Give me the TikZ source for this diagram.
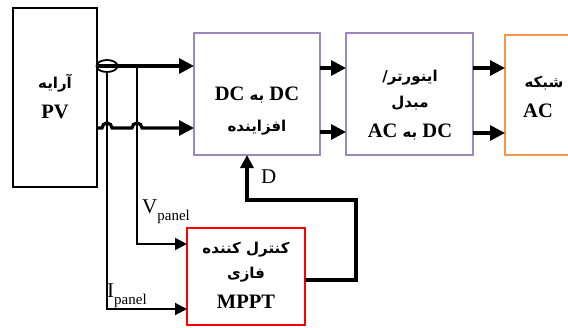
\documentclass[tikz,border=0pt]{standalone}
\usepackage{fontspec}
\setmainfont{Liberation Serif}
\newfontfamily\fa[Script=Arabic]{DejaVu Sans}
\TeXXeTstate=1
\usetikzlibrary{arrows.meta,shapes.geometric}

\definecolor{purp}{RGB}{158,134,192}
\definecolor{orng}{RGB}{247,150,70}

% Persian line and mixed Persian/Latin line
\newcommand\faline[1]{{\fa\bfseries\fontsize{15}{17}\selectfont\beginR #1\endR}}
\newcommand\latbig{\fontsize{20.5}{22}\selectfont\bfseries}
\newcommand\faword[1]{{\fa\fontsize{15}{17}\selectfont #1}}

\tikzset{
  box/.style={inner sep=0pt, outer sep=0pt, line width=1.6pt},
  pw/.style={line width=3.2pt, -{Triangle[length=15pt,width=15pt]}},
  sig/.style={line width=2pt, -{Triangle[length=12pt,width=12pt]}},
  fb/.style={line width=3.4pt, -{Triangle[length=13pt,width=13pt]}},
  txt/.style={inner sep=0pt, anchor=center}
}

\begin{document}
\begin{tikzpicture}[x=1pt,y=-1pt]
\clip (0,0) rectangle (568,327);
\fill[white] (0,0) rectangle (568,327);

% blocks
\node[box, draw=black, minimum width=84pt,  minimum height=179pt] (pv)    at (55,97.5)  {};
\node[box, draw=purp,  minimum width=126pt, minimum height=122pt] (boost) at (257,94)   {};
\node[box, draw=purp,  minimum width=127pt, minimum height=122pt] (inv)   at (409.5,94) {};
\node[box, draw=orng,  minimum width=70pt,  minimum height=120pt] (grid)  at (540,95)   {};
\node[box, draw=red,   minimum width=118pt, minimum height=97pt]  (mppt)  at (246,276.5){};

% current sensor
\node[draw, ellipse, line width=1.8pt, inner sep=0pt, minimum width=21pt, minimum height=12pt] (ct) at (107,66) {};

% levels of the connectors
\coordinate (hA) at (0,66);
\coordinate (hB) at (0,128);
\coordinate (hC) at (0,68);
\coordinate (hD) at (0,132);
\coordinate (hE) at (0,133);
\coordinate (vtap) at (137,66);
\coordinate (vbend) at (137,244);
\coordinate (ibend) at (107,309);
\coordinate (d1) at (356,280);
\coordinate (d2) at (356,200);
\coordinate (d3) at (247,200);

% power path
\draw[pw] (pv.east |- hA) -- (boost.west |- hA);
\draw[pw] (pv.east |- hB) -- (102,128) arc[start angle=180,end angle=360,radius=5]
          -- (132,128) arc[start angle=180,end angle=360,radius=5]
          -- (boost.west |- hB);
\draw[pw] (boost.east |- hC) -- (inv.west |- hC);
\draw[pw] (boost.east |- hD) -- (inv.west |- hD);
\draw[pw] (inv.east |- hC) -- (grid.west |- hC);
\draw[pw] (inv.east |- hE) -- (grid.west |- hE);

% measurements
\draw[sig] (vtap) -- (vbend) -- (mppt.west |- vbend);
\draw[sig] (ct.south) -- (ibend) -- (mppt.west |- ibend);

% duty cycle
\draw[fb] (mppt.east |- d1) -- (d1) -- (d2) -- (d3) -- (boost.south -| d3);

% texts
\node[txt] (pv1) at (55,83) {\faline{آرایه}};
\node[txt] (pv2) at (55,112) {\latbig PV};

\node[txt] (b1) at (257,95) {\latbig\beginR DC\ \faword{به}\ DC\endR};
\node[txt] (b2) at (257,128) {\faline{افزاینده}};

\node[txt] (i1) at (410,78) {\faline{اینورتر/}};
\node[txt] (i2) at (410,103) {\faline{مبدل}};
\node[txt] (i3) at (410,132) {\latbig\beginR DC\ \faword{به}\ AC\endR};

\node[txt] (g1) at (544,83) {\faline{شبکه}};
\node[txt] (g2) at (538,111) {\latbig AC};

\node[txt] (m1) at (246,250) {\faline{کنترل کننده}};
\node[txt] (m2) at (246,275) {\faline{فازی}};
\node[txt] (m3) at (246,302) {\latbig MPPT};

\node[inner sep=0pt, anchor=base west] (vl) at (142,213)
  {\fontsize{21}{22}\selectfont V\raisebox{-7pt}{\fontsize{15}{16}\selectfont panel}};
\node[inner sep=0pt, anchor=base west] (il) at (107,297)
  {\fontsize{21}{22}\selectfont I\raisebox{-7pt}{\fontsize{15}{16}\selectfont panel}};
\node[inner sep=0pt, anchor=base west] (dl) at (261,183) {\fontsize{21}{22}\selectfont D};
\end{tikzpicture}
\end{document}
